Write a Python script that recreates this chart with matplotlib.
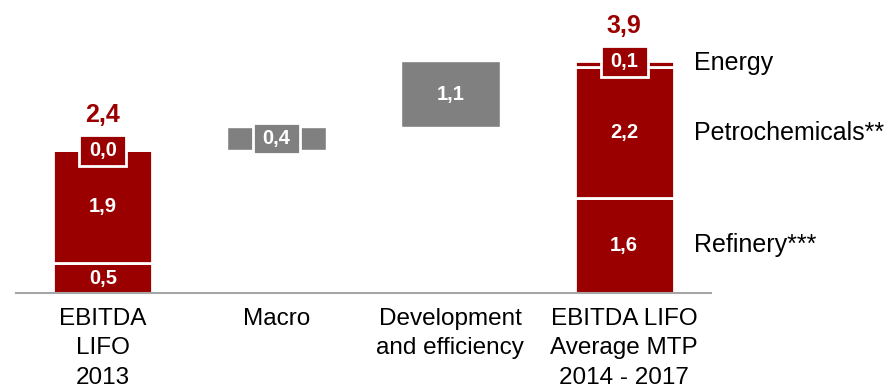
import matplotlib
matplotlib.use("Agg")
import matplotlib.pyplot as plt
from matplotlib.patches import Rectangle

plt.rcParams["font.family"] = ["Liberation Sans", "DejaVu Sans"]

# ---- data -------------------------------------------------------------
categories = ["EBITDA\nLIFO\n2013", "Macro", "Development\nand efficiency",
              "EBITDA LIFO\nAverage MTP\n2014 - 2017"]
segments = ["Refinery***", "Petrochemicals**", "Energy"]
ebitda_2013 = [0.5, 1.9, 0.0]          # by segment, bottom to top
ebitda_mtp = [1.6, 2.2, 0.1]           # by segment, bottom to top
bridge_steps = [0.4, 1.1]              # Macro, Development and efficiency

RED = "#9a0000"
GREY = "#808080"
BAR_W = 0.57
BOX_W, BOX_H = 0.27, 0.52
VAL_FS = 14.5


def fmt(v):
    return f"{v:.1f}".replace(".", ",")


fig = plt.figure(figsize=(8.96, 3.92), dpi=100)
ylim_top = 4.6
ax = fig.add_axes([16 / 896, 99 / 392, 695 / 896, ylim_top * 59.4 / 392])
ax.set_xlim(-0.5, 3.5)
ax.set_ylim(0, ylim_top)


def boxed_label(x, yc, v, color):
    ax.add_patch(Rectangle((x - BOX_W / 2, yc - BOX_H / 2), BOX_W, BOX_H,
                           facecolor=color, edgecolor="white", linewidth=2,
                           zorder=4))
    ax.text(x, yc, fmt(v), color="white", fontsize=VAL_FS, fontweight="bold",
            ha="center", va="center", zorder=5)


def stacked(x, values):
    bottom = 0.0
    for i, v in enumerate(values):
        ax.bar(x, v, BAR_W, bottom=bottom, color=RED, edgecolor="white",
               linewidth=2, zorder=2)
        if i == len(values) - 1:
            boxed_label(x, bottom + v, v, RED)
        else:
            ax.text(x, bottom + v / 2, fmt(v), color="white", fontsize=VAL_FS,
                    fontweight="bold", ha="center", va="center", zorder=3)
        bottom += v
    total = sum(values)
    ax.annotate(fmt(total), (x, total), xytext=(0, 17),
                textcoords="offset points", ha="center", va="bottom",
                color=RED, fontsize=18, fontweight="bold")
    return total


running = stacked(0, ebitda_2013)
for k, step in enumerate(bridge_steps):
    x = k + 1
    ax.bar(x, step, BAR_W, bottom=running, color=GREY, edgecolor="white",
           linewidth=1, zorder=2)
    if step < 0.45:
        boxed_label(x, running + step / 2, step, GREY)
    else:
        ax.text(x, running + step / 2, fmt(step), color="white",
                fontsize=VAL_FS, fontweight="bold", ha="center", va="center",
                zorder=3)
    running += step
stacked(3, ebitda_mtp)

# segment names beside the last stack
bottom = 0.0
for name, v in zip(segments, ebitda_mtp):
    yc = bottom + v / 2 if v >= 0.45 else bottom + v - 0.03
    ax.text(3.40, yc, name, fontsize=18, ha="left", va="center",
            clip_on=False)
    bottom += v

ax.set_xticks(range(len(categories)))
ax.set_xticklabels(categories, fontsize=17.5, linespacing=1.42)
ax.tick_params(axis="x", length=0, pad=11)
ax.set_yticks([])
for side in ("top", "left", "right"):
    ax.spines[side].set_visible(False)
ax.spines["bottom"].set_color("#a6a6a6")
ax.spines["bottom"].set_linewidth(1.5)

fig.savefig("out.png", dpi=100)
